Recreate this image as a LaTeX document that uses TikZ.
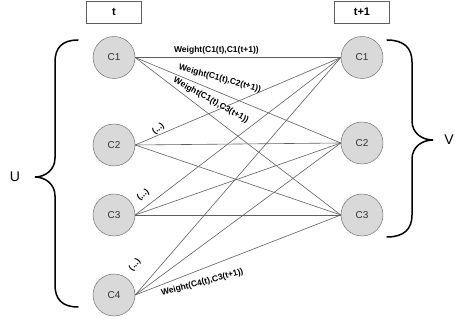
\documentclass[tikz,border=0pt]{standalone}
\usepackage{fontspec}
\setmainfont{Liberation Sans}
\usetikzlibrary{positioning}
\definecolor{nodegray}{HTML}{D9D9D9}
\definecolor{linegray}{HTML}{5F5F5F}
\tikzset{	on grid,
	cluster/.style={
		circle, draw=linegray, fill=nodegray,
		minimum size=42pt, inner sep=0pt,
		font=\fontsize{10}{12}\selectfont, text=black!80},
	stamp/.style={
		draw=linegray, minimum width=55pt, minimum height=22pt,
		font=\fontsize{11}{13}\selectfont\bfseries},
	weight/.style={
		font=\fontsize{8.5}{10}\selectfont\bfseries, inner sep=0pt},
	setname/.style={
		font=\fontsize{14}{16}\selectfont},
	every edge/.style={
		draw=linegray, line width=0.6pt},
	bracket/.style={line width=1.5pt, line cap=round}
}
\begin{document}
\begin{tikzpicture}[x=1pt, y=-1pt]
	\useasboundingbox (0,0) rectangle (455,320);
	% clusters at time t
	\node[cluster] (L1) at (114,57.5) {C1};
	\node[cluster, below=87.5pt of L1] (L2) {C2};
	\node[cluster, below=70pt of L2] (L3) {C3};
	\node[cluster, below=80pt of L3] (L4) {C4};
	% clusters at time t+1
	\node[cluster, right=248pt of L1] (R1) {C1};
	\node[cluster, below=85.5pt of R1] (R2) {C2};
	\node[cluster, below=72pt of R2] (R3) {C3};
	\node[stamp, above=45.5pt of L1] (T0) {t};
	\node[stamp, above=45.5pt of R1] (T1) {t+1};
	\draw (L1.east) edge node[weight, pos=0.395, yshift=7pt] {Weight(C1(t),C1(t+1))} (R1.west);
	\draw (L1.east) edge node[weight, pos=0.395, rotate=-15, yshift=13pt] {Weight(C1(t),C2(t+1))} (R2.west);
	\draw (L1.east) edge node[weight, pos=0.34, rotate=-29, yshift=12pt] {Weight(C1(t),C3(t+1))} (R3.west);
	\draw (L2.east) edge node[weight, pos=0.131, rotate=40, yshift=6pt] {(...)} (R1.west);
	\draw (L2.east) edge (R2.west);
	\draw (L2.east) edge (R3.west);
	\draw (L3.east) edge node[weight, pos=0.073, rotate=40, yshift=11pt] {(...)} (R1.west);
	\draw (L3.east) edge (R2.west);
	\draw (L3.east) edge (R3.west);
	\draw (L4.east) edge node[weight, pos=0.073, rotate=50, yshift=20pt] {(...)} (R1.west);
	\draw (L4.east) edge (R2.west);
	\draw (L4.east) edge node[weight, pos=0.31, rotate=15, yshift=-13pt] {Weight(C4(t),C3(t+1))} (R3.west);
	% braces
	\draw[bracket] (78,40) .. controls (62,40) and (55,48) .. (55,62) -- (55,158)
		.. controls (55,170) and (45,177) .. (35,177)
		.. controls (45,177) and (55,184) .. (55,196) -- (55,285)
		.. controls (55,299) and (62,307) .. (78,307);
	\draw[bracket] (387,40) .. controls (404,40) and (412,48) .. (412,62) -- (412,121)
		.. controls (412,133) and (422,140) .. (433,140)
		.. controls (422,140) and (412,147) .. (412,159) -- (412,215)
		.. controls (412,229) and (404,237) .. (387,237);
	\node[setname] (U) at (15,177) {U};
	\node[setname] (V) at (449,140) {V};
\end{tikzpicture}
\end{document}
